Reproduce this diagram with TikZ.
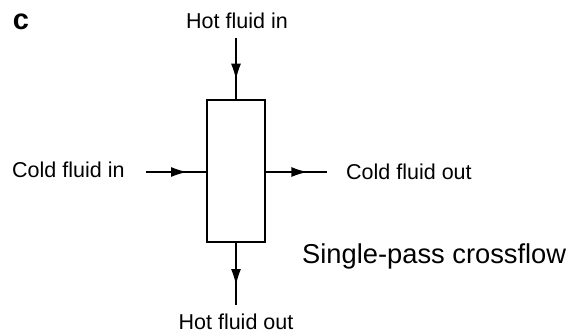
\documentclass[tikz,border=0pt]{standalone}
\usepackage{fontspec}
\setmainfont{Liberation Sans}
\usetikzlibrary{arrows.meta,decorations.markings}
\begin{document}
\begin{tikzpicture}[x=1pt,y=-1pt,
  lbl/.style={inner sep=0pt,font=\fontsize{21.5}{26}\selectfont},
  flow/.style={line width=1.4pt,postaction={decorate},
    decoration={markings,mark=at position 0.68 with {\arrow{Latex[length=16pt,width=10pt]}}}},
  exch/.style={draw,line width=1.4pt,minimum width=58pt,minimum height=142pt,inner sep=0pt}]
\useasboundingbox (0,0) rectangle (571,333);
\node[exch] (box) at (236,171) {};
\node[inner sep=0pt,font=\fontsize{29}{34}\selectfont\bfseries] (c) at (21,22) {c};
\node[lbl] (hin) at (237,21) {Hot fluid in};
\node[lbl] (hout) at (236,322) {Hot fluid out};
\node[lbl,anchor=west] (cin) at (12,170) {Cold fluid in};
\node[lbl,anchor=west] (cout) at (346,172) {Cold fluid out};
\node[inner sep=0pt,anchor=west,font=\fontsize{27.3}{32}\selectfont] (title) at (302,256) {Single-pass crossflow};
\coordinate (hinS) at (236,38);
\coordinate (houtE) at (236,305);
\coordinate (cinS) at (146,172);
\coordinate (coutE) at (327,172);
\draw[flow] (hinS) -- (box.north);
\draw[flow] (box.south) -- (houtE);
\draw[flow] (cinS) -- (cinS -| box.west);
\draw[flow] (coutE -| box.east) -- (coutE);
\end{tikzpicture}
\end{document}
